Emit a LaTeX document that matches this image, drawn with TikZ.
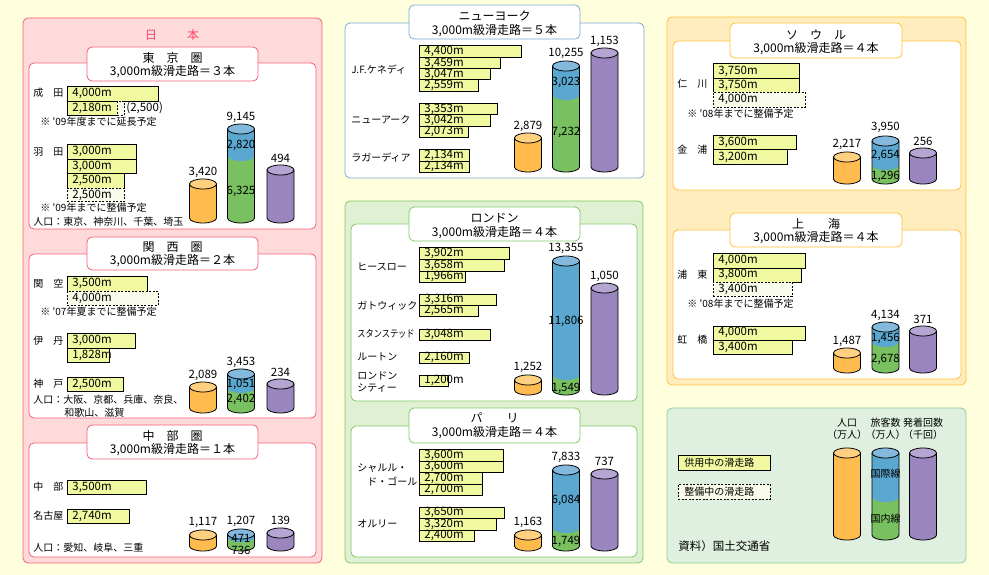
\documentclass[tikz,border=0pt]{standalone}
\usepackage{fontspec}
\setmainfont{Noto Sans CJK JP}
\definecolor{paper}{RGB}{255,255,221}
\definecolor{jpbg}{RGB}{255,218,218}
\definecolor{jpline}{RGB}{245,95,120}
\definecolor{jptext}{RGB}{250,70,100}
\definecolor{nyline}{RGB}{125,168,210}
\definecolor{eubg}{RGB}{224,240,210}
\definecolor{euline}{RGB}{130,200,100}
\definecolor{asbg}{RGB}{255,237,190}
\definecolor{asline}{RGB}{255,190,60}
\definecolor{keybg}{RGB}{224,240,224}
\definecolor{keyline}{RGB}{140,205,150}
\definecolor{rwfill}{RGB}{240,248,160}
\definecolor{rwplanfill}{RGB}{250,252,235}
\definecolor{popbody}{RGB}{255,187,77}
\definecolor{poplid}{RGB}{255,208,128}
\definecolor{intlbody}{RGB}{90,168,208}
\definecolor{intllid}{RGB}{130,185,220}
\definecolor{dombody}{RGB}{120,192,96}
\definecolor{fltbody}{RGB}{155,133,190}
\definecolor{fltlid}{RGB}{180,165,210}
\newcommand{\rwy}[7][rw]{%
	\node[#1, minimum width=#5pt, minimum height=#6pt] (#2) at (#3,#4) {};
	\node[rwtxt] (#2t) at ([xshift=5pt]#2.west) {#7};}
\newcommand{\drum}[5]{%
	\filldraw[fill=#4] (#1-13.5,#2) -- (#1-13.5,#3) arc[start angle=180, end angle=360, x radius=13.5pt, y radius=5pt] -- (#1+13.5,#2) -- cycle;
	\filldraw[fill=#5] (#1,#2) ellipse[x radius=13.5pt, y radius=5pt];}
\newcommand{\drumtwo}[4]{%
	\fill[dombody] (#1-13.5,#3) -- (#1-13.5,#4) arc[start angle=180, end angle=360, x radius=13.5pt, y radius=5pt] -- (#1+13.5,#3) -- cycle;
	\fill[intlbody] (#1-13.5,#2) -- (#1-13.5,#3) arc[start angle=180, end angle=360, x radius=13.5pt, y radius=5pt] -- (#1+13.5,#2) -- cycle;
	\draw (#1-13.5,#2) -- (#1-13.5,#4) arc[start angle=180, end angle=360, x radius=13.5pt, y radius=5pt] -- (#1+13.5,#2);
	\filldraw[fill=intllid] (#1,#2) ellipse[x radius=13.5pt, y radius=5pt];}
\begin{document}
\begin{tikzpicture}[x=1pt, y=-1pt, line width=0.8pt,
	panel/.style={rounded corners=5pt},
	rw/.style={draw, fill=rwfill, anchor=north west, inner sep=0pt},
	rwplan/.style={rw, dash pattern=on 2pt off 1.5pt, fill=rwplanfill},
	rwtxt/.style={anchor=west, inner sep=0pt, font=\fontsize{11.5}{12}\selectfont},
	lab/.style={anchor=west, inner sep=0pt, font=\fontsize{10}{12}\selectfont},
	num/.style={inner sep=0pt, font=\fontsize{11.5}{12}\selectfont},
	ttl/.style={inner sep=0pt, font=\fontsize{12}{14}\selectfont, node distance=14pt}]
	\fill[paper] (0,0) rectangle (989,575);
	\useasboundingbox (0,0) rectangle (989,575);

	\filldraw[panel, fill=jpbg, draw=jpline] (23,18) rectangle (322,563);
	\node[ttl, text=jptext] (jp) at (172,35) {日\hspace{2.5em}本};

	\filldraw[panel, fill=white, draw=jpline] (29,63) rectangle (316,229);
	\filldraw[panel, fill=white, draw=jpline] (87,47) rectangle (258,81);
	\node[ttl] (tky) at (172.5,58) {東　京　圏};
	\node[ttl, below of=tky] (tkys) {3,000m級滑走路＝３本};
	\node[lab] (nrt) at (33,93) {成　田};
	\rwy{nrt1}{67}{86}{91}{15}{4,000m}
	\rwy{nrt2}{67}{101}{50}{14}{2,180m}
	\rwy[rwplan]{nrt3}{117}{101}{7}{14}{}
	\node[rwtxt] (nrtx) at (126,108) {(2,500)};
	\node[lab] (nrtn) at (40,122) {※ \textquotesingle09年度までに延長予定};
	\node[lab] (hnd) at (33,152) {羽　田};
	\rwy{hnd1}{67}{144}{69}{15}{3,000m}
	\rwy{hnd2}{67}{159}{69}{14}{3,000m}
	\rwy{hnd3}{67}{173}{57}{15}{2,500m}
	\rwy[rwplan]{hnd4}{67}{188}{57}{13.5}{2,500m}
	\node[lab] (hndn) at (40,208) {※ \textquotesingle09年までに整備予定};
	\node[lab] (tkyp) at (33,222) {人口：東京、神奈川、千葉、埼玉};
	\drum{203}{184}{218}{popbody}{poplid}
	\drumtwo{241}{129}{156}{218}
	\drum{280.5}{170}{218}{fltbody}{fltlid}
	\node[num] (tkya) at (203,172) {3,420};
	\node[num] (tkyb) at (241,117) {9,145};
	\node[num] (tkyc) at (280.5,158) {494};
	\node[num] (tkyd) at (241,145) {2,820};
	\node[num] (tkye) at (241,191) {6,325};

	\filldraw[panel, fill=white, draw=jpline] (29,254) rectangle (316,418);
	\filldraw[panel, fill=white, draw=jpline] (87,237) rectangle (258,270);
	\node[ttl] (ksi) at (172.5,247) {関　西　圏};
	\node[ttl, below of=ksi] (ksis) {3,000m級滑走路＝２本};
	\node[lab] (kix) at (33,284) {関　空};
	\rwy{kix1}{67}{276}{80}{15}{3,500m}
	\rwy[rwplan]{kix2}{67}{291}{91}{14}{4,000m}
	\node[lab] (kixn) at (40,312) {※ \textquotesingle07年夏までに整備予定};
	\node[lab] (itm) at (33,341) {伊　丹};
	\rwy{itm1}{67}{333}{68}{15}{3,000m}
	\rwy{itm2}{67}{348}{42}{14}{1,828m}
	\node[lab] (ukb) at (33,384) {神　戸};
	\rwy{ukb1}{67}{377}{56}{14}{2,500m}
	\node[lab] (ksip) at (33,400) {人口：大阪、京都、兵庫、奈良、};
	\node[lab] (ksiq) at (64,413) {和歌山、滋賀};
	\drum{203}{387}{408}{popbody}{poplid}
	\drumtwo{241}{374}{388}{408}
	\drum{280.5}{384}{408}{fltbody}{fltlid}
	\node[num] (ksia) at (203,375) {2,089};
	\node[num] (ksib) at (241,362) {3,453};
	\node[num] (ksic) at (280.5,372) {234};
	\node[num] (ksid) at (241,384) {1,051};
	\node[num] (ksie) at (241,399) {2,402};

	\filldraw[panel, fill=white, draw=jpline] (29,443) rectangle (316,557);
	\filldraw[panel, fill=white, draw=jpline] (87,425) rectangle (258,459);
	\node[ttl] (cbu) at (172.5,436) {中　部　圏};
	\node[ttl, below of=cbu] (cbus) {3,000m級滑走路＝１本};
	\node[lab] (ngo) at (33,487) {中　部};
	\rwy{ngo1}{67}{480}{79}{14}{3,500m}
	\node[lab] (nkm) at (33,516) {名古屋};
	\rwy{nkm1}{67}{509}{62}{14}{2,740m}
	\node[lab] (cbup) at (33,548) {人口：愛知、岐阜、三重};
	\drum{203}{535}{546}{popbody}{poplid}
	\drumtwo{241}{534}{537}{546}
	\drum{280.5}{533}{546}{fltbody}{fltlid}
	\node[num] (cbua) at (203,522) {1,117};
	\node[num] (cbub) at (241,521) {1,207};
	\node[num] (cbuc) at (280.5,520) {139};
	\node[num] (cbud) at (241,538) {471};
	\node[num] (cbue) at (241,550) {736};

	\filldraw[panel, fill=white, draw=nyline] (345,23) rectangle (644,178);
	\filldraw[panel, fill=white, draw=nyline] (409,5) rectangle (580,39);
	\node[ttl] (nyc) at (494.5,16) {ニューヨーク};
	\node[ttl, below of=nyc, node distance=15pt] (nycs) {3,000m級滑走路＝５本};
	\node[lab] (jfk) at (351,70) {J.F.ケネディ};
	\rwy{jfk1}{419}{45.5}{102}{11.5}{4,400m}
	\rwy{jfk2}{419}{57}{81}{11.5}{3,459m}
	\rwy{jfk3}{419}{68.5}{71}{11}{3,047m}
	\rwy{jfk4}{419}{79.5}{59}{11.5}{2,559m}
	\node[lab] (ewr) at (351,120) {ニューアーク};
	\rwy{ewr1}{419}{103.5}{78}{11}{3,353m}
	\rwy{ewr2}{419}{114.5}{71}{11.5}{3,042m}
	\rwy{ewr3}{419}{126}{49}{11}{2,073m}
	\node[lab] (lga) at (351,158) {ラガーディア};
	\rwy{lga1}{419}{149.5}{50}{11.5}{2,134m}
	\rwy{lga2}{419}{161}{50}{11}{2,134m}
	\drum{528}{138}{167}{popbody}{poplid}
	\drumtwo{566}{66}{95}{167}
	\drum{604.5}{53}{167}{fltbody}{fltlid}
	\node[num] (nyca) at (528,126) {2,879};
	\node[num] (nycb) at (566,53) {10,255};
	\node[num] (nycc) at (604.5,41) {1,153};
	\node[num] (nycd) at (566,82) {3,023};
	\node[num] (nyce) at (566,132) {7,232};

	\filldraw[panel, fill=eubg, draw=euline] (345,201) rectangle (643,563);
	\filldraw[panel, fill=white, draw=euline] (351,224) rectangle (637,401);
	\filldraw[panel, fill=white, draw=euline] (409,207) rectangle (580,241);
	\node[ttl] (lon) at (494.5,218) {ロンドン};
	\node[ttl, below of=lon, node distance=15pt] (lons) {3,000m級滑走路＝４本};
	\node[lab] (lhr) at (357,267) {ヒースロー};
	\rwy{lhr1}{419}{247.5}{90}{11.5}{3,902m}
	\rwy{lhr2}{419}{259}{85}{11.5}{3,658m}
	\rwy{lhr3}{419}{270.5}{46}{11.5}{1,966m}
	\node[lab] (lgw) at (357,306) {ガトウィック};
	\rwy{lgw1}{419}{293.5}{77}{11.5}{3,316m}
	\rwy{lgw2}{419}{305}{59}{11}{2,565m}
	\node[lab] (stn) at (357,334) {\scalebox{0.82}[1]{スタンステッド}};
	\rwy{stn1}{419}{328.5}{71}{11}{3,048m}
	\node[lab] (ltn) at (357,357) {ルートン};
	\rwy{ltn1}{419}{351.5}{50}{11}{2,160m}
	\node[lab] (lcy) at (357,376) {ロンドン};
	\node[lab] (lcyb) at (357,388) {シティー};
	\rwy{lcy1}{419}{375}{29}{11}{1,200m}
	\drum{528}{380}{390}{popbody}{poplid}
	\drumtwo{566}{261}{375}{390}
	\drum{604.5}{288}{390}{fltbody}{fltlid}
	\node[num] (lona) at (528,367) {1,252};
	\node[num] (lonb) at (566,248) {13,355};
	\node[num] (lonc) at (604.5,276) {1,050};
	\node[num] (lond) at (566,321) {11,806};
	\node[num] (lone) at (566,388) {1,549};

	\filldraw[panel, fill=white, draw=euline] (351,426) rectangle (637,557);
	\filldraw[panel, fill=white, draw=euline] (409,408) rectangle (580,443);
	\node[ttl] (par) at (494.5,418) {パ　　リ};
	\node[ttl, below of=par, node distance=15pt] (pars) {3,000m級滑走路＝４本};
	\node[lab] (cdg) at (357,468) {シャルル・};
	\node[lab] (cdgb) at (367,481) {ド・ゴール};
	\rwy{cdg1}{419}{449}{84}{11.5}{3,600m}
	\rwy{cdg2}{419}{460.5}{84}{11.5}{3,600m}
	\rwy{cdg3}{419}{472}{63}{11.5}{2,700m}
	\rwy{cdg4}{419}{483.5}{63}{11}{2,700m}
	\node[lab] (ory) at (357,524) {オルリー};
	\rwy{ory1}{419}{507}{85}{11}{3,650m}
	\rwy{ory2}{419}{518}{77}{11.5}{3,320m}
	\rwy{ory3}{419}{529.5}{55}{11}{2,400m}
	\drum{528}{535}{546}{popbody}{poplid}
	\drumtwo{566}{470}{528}{546}
	\drum{604.5}{474}{546}{fltbody}{fltlid}
	\node[num] (para) at (528,522.7) {1,163};
	\node[num] (parb) at (566,457) {7,833};
	\node[num] (parc) at (604.5,461) {737};
	\node[num] (pard) at (566,500) {6,084};
	\node[num] (pare) at (566,541) {1,749};

	\filldraw[panel, fill=asbg, draw=asline] (667,17) rectangle (966,385);
	\filldraw[panel, fill=white, draw=asline] (673,41) rectangle (961,190);
	\filldraw[panel, fill=white, draw=asline] (730,23) rectangle (902,58);
	\node[ttl] (sel) at (816,35) {ソ　ウ　ル};
	\node[ttl, below of=sel] (sels) {3,000m級滑走路＝４本};
	\node[lab] (icn) at (677,84) {仁　川};
	\rwy{icn1}{713}{63.5}{86}{14.5}{3,750m}
	\rwy{icn2}{713}{78}{86}{14}{3,750m}
	\rwy[rwplan]{icn3}{713}{92}{92}{15}{4,000m}
	\node[lab] (icnn) at (687,114) {※ \textquotesingle08年までに整備予定};
	\node[lab] (gmp) at (677,150) {金　浦};
	\rwy{gmp1}{713}{135}{83}{14.5}{3,600m}
	\rwy{gmp2}{713}{149.5}{74}{14.5}{3,200m}
	\drum{847}{157}{179}{popbody}{poplid}
	\drumtwo{885.5}{141}{165}{179}
	\drum{923}{153}{179}{fltbody}{fltlid}
	\node[num] (sela) at (847,144) {2,217};
	\node[num] (selb) at (885.5,127) {3,950};
	\node[num] (selc) at (923,141) {256};
	\node[num] (seld) at (885.5,155) {2,654};
	\node[num] (sele) at (885.5,176) {1,296};

	\filldraw[panel, fill=white, draw=asline] (673,230) rectangle (961,379);
	\filldraw[panel, fill=white, draw=asline] (730,213) rectangle (902,247);
	\node[ttl] (sha) at (816,224) {上　　海};
	\node[ttl, below of=sha] (shas) {3,000m級滑走路＝４本};
	\node[lab] (pvg) at (677,275) {浦　東};
	\rwy{pvg1}{713}{253.5}{92}{14}{4,000m}
	\rwy{pvg2}{713}{267.5}{88}{14}{3,800m}
	\rwy[rwplan]{pvg3}{713}{281.5}{79}{14.5}{3,400m}
	\node[lab] (pvgn) at (687,304) {※ \textquotesingle08年までに整備予定};
	\node[lab] (shq) at (677,340) {虹　橋};
	\rwy{shq1}{713}{325.5}{92}{14}{4,000m}
	\rwy{shq2}{713}{339.5}{79}{14.5}{3,400m}
	\drum{847}{353}{368}{popbody}{poplid}
	\drumtwo{885.5}{327}{342}{368}
	\drum{923}{331}{368}{fltbody}{fltlid}
	\node[num] (shaa) at (847,341) {1,487};
	\node[num] (shab) at (885.5,315) {4,134};
	\node[num] (shac) at (923,319) {371};
	\node[num] (shad) at (885.5,338) {1,456};
	\node[num] (shae) at (885.5,359) {2,678};

	\filldraw[panel, fill=keybg, draw=keyline] (667,408) rectangle (966,563);
	\node[rw, minimum width=92pt, minimum height=15pt] (key1) at (678,455) {};
	\node[lab] (key1t) at ([xshift=6pt]key1.west) {供用中の滑走路};
	\node[rwplan, minimum width=92pt, minimum height=15pt] (key2) at (678,484) {};
	\node[lab] (key2t) at ([xshift=6pt]key2.west) {整備中の滑走路};
	\node[lab, font=\fontsize{11.5}{13}\selectfont] (src) at (678,546) {資料）国土交通省};
	\drum{847}{453}{535}{popbody}{poplid}
	\drumtwo{885.5}{453}{497}{535}
	\drum{923}{453}{535}{fltbody}{fltlid}
	\node[num, font=\fontsize{10}{12}\selectfont] (keya) at (847,423) {人口};
	\node[num, font=\fontsize{10}{12}\selectfont] (keyb) at (847,435) {（万人）};
	\node[num, font=\fontsize{10}{12}\selectfont] (keyc) at (885.5,423) {旅客数};
	\node[num, font=\fontsize{10}{12}\selectfont] (keyd) at (885.5,435) {（万人）};
	\node[num, font=\fontsize{10}{12}\selectfont] (keye) at (923,423) {発着回数};
	\node[num, font=\fontsize{10}{12}\selectfont] (keyf) at (923,435) {（千回）};
	\node[num, font=\fontsize{10}{12}\selectfont] (keyg) at (885.5,474) {国際線};
	\node[num, font=\fontsize{10}{12}\selectfont] (keyh) at (885.5,519) {国内線};
\end{tikzpicture}
\end{document}
